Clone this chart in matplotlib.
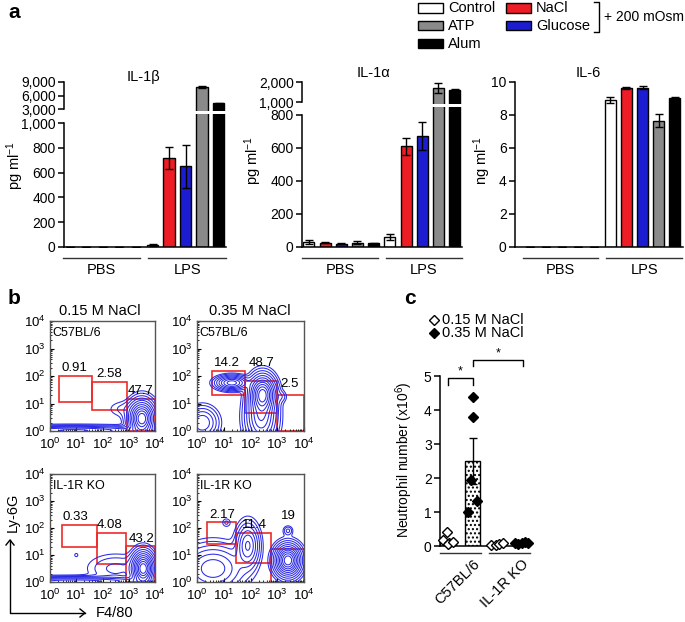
import numpy as np
import matplotlib.pyplot as plt
from matplotlib.patches import Rectangle
from matplotlib.lines import Line2D

plt.rcParams['font.family'] = ['Liberation Sans', 'DejaVu Sans']
plt.rcParams['mathtext.fontset'] = 'custom'
plt.rcParams['mathtext.rm'] = 'Liberation Sans'
plt.rcParams['mathtext.it'] = 'Liberation Sans:italic'
plt.rcParams['mathtext.bf'] = 'Liberation Sans:bold'

W, H = 685, 622

# ---------------- panel a data ----------------
treatments = ['Control', 'NaCl', 'Glucose', 'ATP', 'Alum']
bar_colors = ['white', '#ee1c24', '#1c1cd0', '#8a8a8a', 'black']
groups = ['PBS', 'LPS']

il1b_pbs = [3, 3, 1, 3, 3]
il1b_pbs_err = [1, 1, 0, 1, 1]
il1b_lps = [18, 720, 650, 7950, 4300]
il1b_lps_err = [9, 90, 170, 200, 120]

il1a_pbs = [28, 25, 20, 27, 22]
il1a_pbs_err = [12, 3, 2, 8, 3]
il1a_lps = [60, 610, 670, 1685, 1620]
il1a_lps_err = [20, 50, 85, 250, 50]

il6_pbs = [0.02, 0.02, 0.02, 0.02, 0.02]
il6_pbs_err = [0, 0, 0, 0, 0]
il6_lps = [8.9, 9.65, 9.65, 7.65, 9.02]
il6_lps_err = [0.2, 0.05, 0.08, 0.4, 0.05]

# ---------------- panel b data ----------------
# populations (log10 x centre, log10 y centre, sx, sy, weight)
flow_blobs = {
    'tl': [(3.5, 0.45, 0.26, 0.34, 1.0), (0.9, 0.02, 1.6, 0.09, 0.35),
           (2.8, 0.8, 0.35, 0.18, 0.03)],
    'tr': [(1.3, 1.75, 0.30, 0.13, 0.6), (2.45, 1.35, 0.25, 0.35, 1.0),
           (2.4, 0.5, 0.30, 0.50, 0.5), (0.2, 0.3, 0.30, 0.30, 0.25),
           (3.15, 1.25, 0.12, 0.12, 0.04)],
    'bl': [(3.55, 0.5, 0.22, 0.32, 1.0), (0.9, 0.02, 1.6, 0.09, 0.4),
           (1.0, 1.0, 0.08, 0.08, 0.015), (2.5, 0.5, 0.6, 0.30, 0.06)],
    'br': [(3.4, 0.8, 0.25, 0.30, 1.0), (3.4, 1.9, 0.10, 0.10, 0.06),
           (1.1, 2.2, 0.10, 0.10, 0.03), (1.9, 1.35, 0.22, 0.42, 0.35),
           (0.6, 0.5, 0.60, 0.45, 0.3)],
}
# gates: (x0, x1, y0, y1) in decades, label, label position
flow_gates = {
    'tl': [((0.35, 1.6, 1.06, 2.0), '0.91', (0.95, 2.28)),
           ((1.6, 2.95, 0.75, 1.78), '2.58', (2.27, 2.08)),
           ((2.95, 4.0, 0.0, 1.17), '47.7', (3.46, 1.45))],
    'tr': [((0.57, 1.79, 1.32, 2.18), '14.2', (1.1, 2.48)),
           ((1.79, 3.0, 0.66, 1.82), '48.7', (2.4, 2.48)),
           ((3.0, 4.0, 0.0, 1.31), '2.5', (3.45, 1.7))],
    'bl': [((0.47, 1.8, 1.28, 2.12), '0.33', (0.95, 2.41)),
           ((1.8, 2.9, 0.66, 1.81), '4.08', (2.27, 2.1)),
           ((2.9, 4.0, 0.0, 1.33), '43.2', (3.5, 1.6))],
    'br': [((0.38, 1.46, 1.41, 2.22), '2.17', (0.95, 2.5)),
           ((1.46, 2.76, 0.7, 1.82), '11.4', (2.15, 2.12)),
           ((2.78, 4.0, 0.0, 1.23), '19', (3.4, 2.43))],
}
flow_strain = {'tl': 'C57BL/6', 'tr': 'C57BL/6', 'bl': 'IL-1R KO', 'br': 'IL-1R KO'}
flow_cols = ['0.15 M NaCl', '0.35 M NaCl']

# ---------------- panel c data ----------------
c_strains = ['C57BL/6', 'IL-1R KO']
c_means = [0.17, 2.5, 0.05, 0.1]
c_err = [0.04, 0.67, 0.02, 0.02]
c57_015 = [0.42, 0.18, 0.10, 0.05, 0.12]
c57_035 = [4.38, 3.80, 1.95, 1.33, 1.00]
ko_015 = [0.04, 0.03, 0.06, 0.10]
ko_035 = [0.08, 0.05, 0.10, 0.12, 0.09]
c_points = [c57_015, c57_035, ko_015, ko_035]
c_jitter = [[-0.05, -0.2, 0.05, 0.0, 0.22], [0.0, 0.02, -0.05, 0.2, -0.18],
            [-0.25, -0.05, 0.08, 0.25], [-0.27, -0.14, 0.02, 0.14, 0.27]]


def rect(x0, y0, x1, y1):
    return [x0 / W, 1 - y1 / H, (x1 - x0) / W, (y1 - y0) / H]


def fx(x):
    return x / W


def fy(y):
    return 1 - y / H


fig = plt.figure(figsize=(W / 100, H / 100), dpi=100)

TICKFS = 10
positions = np.array([0, 1, 2, 3, 4, 5, 6, 7, 8, 9])


def style_axis(ax, bottom=True):
    for s in ['top', 'right']:
        ax.spines[s].set_visible(False)
    ax.spines['bottom'].set_visible(bottom)
    ax.spines['left'].set_linewidth(1.1)
    ax.spines['bottom'].set_linewidth(1.1)
    ax.tick_params(axis='y', direction='out', length=4, width=1.1, labelsize=TICKFS, pad=2)
    ax.tick_params(axis='x', length=0, labelbottom=False)


def draw_bars(ax, means, errs):
    ax.bar(positions, means, width=0.68, color=bar_colors * 2, edgecolor='black', linewidth=1)
    ax.errorbar(positions, means, yerr=errs, fmt='none', ecolor='black', elinewidth=1,
                capsize=2.8, capthick=1)


def group_lines(ax, height_px):
    tr = ax.get_xaxis_transform()
    for (a, b), lab in zip([(-0.4, 4.25), (4.75, 9.45)], groups):
        ax.plot([a, b], [-11 / height_px] * 2, transform=tr, clip_on=False, color='#333333', lw=1)
        ax.text((a + b) / 2, -23 / height_px, lab, transform=tr, ha='center', va='center', fontsize=10.5)


def fmt_thousands(vals):
    return ['{:,}'.format(v) for v in vals]


def broken_panel(x0, x1, low_top, low_lim, low_ticks, up_rect, up_lim, up_ticks, pbs, pbs_e, lps, lps_e, xlim):
    means = pbs + lps
    errs = pbs_e + lps_e
    axl = fig.add_axes(rect(x0, low_top, x1, 247))
    draw_bars(axl, means, errs)
    axl.set_xlim(*xlim)
    axl.set_ylim(*low_lim)
    axl.set_yticks(low_ticks)
    axl.set_yticklabels(fmt_thousands(low_ticks))
    axl.spines['left'].set_bounds(low_ticks[0], low_ticks[-1])
    style_axis(axl)
    group_lines(axl, 247 - low_top)
    axu = fig.add_axes(rect(x0, up_rect[0], x1, up_rect[1]))
    draw_bars(axu, means, errs)
    axu.set_xlim(*xlim)
    axu.set_ylim(*up_lim)
    axu.set_yticks(up_ticks)
    axu.set_yticklabels(fmt_thousands(up_ticks))
    axu.spines['left'].set_bounds(up_ticks[0], up_ticks[-1])
    style_axis(axu, bottom=False)
    axu.patch.set_alpha(0)
    return axl, axu


# IL-1beta
broken_panel(64, 226, 114, (0, 1073), [0, 200, 400, 600, 800, 1000],
             (80, 111), (2556, 9444), [3000, 6000, 9000],
             il1b_pbs, il1b_pbs_err, il1b_lps, il1b_lps_err, (-0.36, 9.45))
fig.text(fx(143), fy(77), 'IL-1β', ha='center', va='center', fontsize=10.5)
fig.text(fx(15), fy(165), 'pg ml$^{-1}$', ha='center', va='center', rotation=90, fontsize=10.5)

# IL-1alpha
broken_panel(302, 462, 107, (0, 848), [0, 200, 400, 600, 800],
             (80, 104), (900, 2100), [1000, 2000],
             il1a_pbs, il1a_pbs_err, il1a_lps, il1a_lps_err, (-0.42, 9.45))
fig.text(fx(373), fy(73), 'IL-1α', ha='center', va='center', fontsize=10.5)
fig.text(fx(253), fy(160), 'pg ml$^{-1}$', ha='center', va='center', rotation=90, fontsize=10.5)

# IL-6
ax6 = fig.add_axes(rect(515, 80, 683, 247))
draw_bars(ax6, il6_pbs + il6_lps, il6_pbs_err + il6_lps_err)
ax6.set_xlim(-0.9, 9.5)
ax6.set_ylim(0, 10.12)
ax6.set_yticks([0, 2, 4, 6, 8, 10])
ax6.spines['left'].set_bounds(0, 10)
style_axis(ax6)
group_lines(ax6, 167)
fig.text(fx(588), fy(73), 'IL-6', ha='center', va='center', fontsize=10.5)
fig.text(fx(482), fy(160), 'ng ml$^{-1}$', ha='center', va='center', rotation=90, fontsize=10.5)

# legend for a
leg_layout = {'Control': (418, 8), 'ATP': (418, 25.5), 'Alum': (418, 43.5),
              'NaCl': (506, 8), 'Glucose': (506, 25.5)}
for name, col in zip(treatments, bar_colors):
    lx, ly = leg_layout[name]
    fig.add_artist(Rectangle((fx(lx), fy(ly + 4.7)), 25 / W, 9.4 / H, facecolor=col,
                             edgecolor='black', linewidth=1, transform=fig.transFigure))
    fig.text(fx(lx + 30), fy(ly), name, ha='left', va='center', fontsize=10.5)
fig.add_artist(Line2D([fx(594), fx(598.5), fx(598.5), fx(594)], [fy(2), fy(2), fy(32), fy(32)],
                      color='black', lw=1, transform=fig.transFigure))
fig.text(fx(604), fy(17), '+ 200 mOsm', ha='left', va='center', fontsize=10)

fig.text(fx(8), fy(12), 'a', ha='left', va='center', fontsize=15, fontweight='bold')
fig.text(fx(8), fy(298), 'b', ha='left', va='center', fontsize=15, fontweight='bold')
fig.text(fx(404), fy(298), 'c', ha='left', va='center', fontsize=15, fontweight='bold')

# ---------------- panel b ----------------
gx = np.linspace(0, 4, 260)
GX, GY = np.meshgrid(gx, gx)
level_fracs = [0.012, 0.025, 0.05, 0.09, 0.15, 0.23, 0.33, 0.45, 0.58, 0.72, 0.86]
flow_rects = {'tl': (50, 321, 155, 431), 'tr': (197, 321, 304, 431),
              'bl': (50, 474, 155, 582), 'br': (197, 474, 304, 582)}
minor = [d + np.log10(m) for d in range(4) for m in range(2, 10)]
for key, r in flow_rects.items():
    ax = fig.add_axes(rect(*r))
    Z = np.zeros_like(GX)
    for cx, cy, sx, sy, w in flow_blobs[key]:
        Z += w * np.exp(-((GX - cx) ** 2 / (2 * sx ** 2) + (GY - cy) ** 2 / (2 * sy ** 2)))
    ax.contour(GX, GY, Z, levels=[f * Z.max() for f in level_fracs], colors='#2a2ae6',
               linewidths=0.75)
    for (a, b, c0, c1), lab, (tx, ty) in flow_gates[key]:
        ax.add_patch(Rectangle((a, c0), b - a, c1 - c0, fill=False, edgecolor='#ee2a2a', lw=1.2,
                               clip_on=False))
        ax.text(tx, ty, lab, ha='center', va='center', fontsize=9.5)
    ax.text(0.1, 3.55, flow_strain[key], ha='left', va='center', fontsize=9)
    ax.set_xlim(0, 4)
    ax.set_ylim(0, 4)
    ticks = [0, 1, 2, 3, 4]
    labels = ['10$^{%d}$' % t for t in ticks]
    ax.set_xticks(ticks)
    ax.set_xticklabels(labels)
    ax.set_yticks(ticks)
    ax.set_yticklabels(labels)
    ax.set_xticks(minor, minor=True)
    ax.set_yticks(minor, minor=True)
    ax.tick_params(which='major', direction='in', length=3, width=0.8, labelsize=9.5, pad=3)
    ax.tick_params(axis='x', which='major', pad=4)
    ax.tick_params(which='minor', direction='in', length=1.5, width=0.6)
    for s in ax.spines.values():
        s.set_color('#555555')
        s.set_linewidth(1)

fig.text(fx(100), fy(311), flow_cols[0], ha='center', va='center', fontsize=10.5)
fig.text(fx(250), fy(311), flow_cols[1], ha='center', va='center', fontsize=10.5)
fig.text(fx(13), fy(512), 'Ly-6G', ha='center', va='center', rotation=90, fontsize=10.5)
fig.add_artist(Line2D([fx(10), fx(10), fx(85)], [fy(540), fy(613), fy(613)], color='black', lw=1,
                      transform=fig.transFigure))
fig.add_artist(Line2D([fx(6), fx(10), fx(14)], [fy(545), fy(540), fy(545)], color='black', lw=1,
                      transform=fig.transFigure))
fig.add_artist(Line2D([fx(80), fx(85), fx(80)], [fy(609), fy(613), fy(617)], color='black', lw=1,
                      transform=fig.transFigure))
fig.text(fx(96), fy(613), 'F4/80', ha='left', va='center', fontsize=10.5)

# ---------------- panel c ----------------
axc = fig.add_axes(rect(440, 376, 530, 546))
cpos = [0, 1, 2, 3]
axc.bar(cpos, c_means, width=0.65, color='white', edgecolor='black', linewidth=1,
        hatch=['', '....', '', '....'])
axc.errorbar(cpos, c_means, yerr=c_err, fmt='none', ecolor='black', elinewidth=1, capsize=3, capthick=1)
for i, (pts, jit) in enumerate(zip(c_points, c_jitter)):
    filled = i % 2 == 1
    axc.plot([cpos[i] + j for j in jit], pts, 'D', ms=5, mec='black', mew=1,
             mfc='black' if filled else 'white', clip_on=False, zorder=5)
axc.set_xlim(-0.33, 3.35)
axc.set_ylim(0, 5)
axc.set_yticks([0, 1, 2, 3, 4, 5])
for s in ['top', 'right']:
    axc.spines[s].set_visible(False)
axc.spines['left'].set_linewidth(1.1)
axc.spines['bottom'].set_linewidth(1.1)
axc.tick_params(axis='y', direction='out', length=4, width=1.1, labelsize=TICKFS, pad=2)
axc.tick_params(axis='x', length=0, labelbottom=False)
tr = axc.get_xaxis_transform()
for (a, b), lab in zip([(-0.33, 1.35), (1.68, 3.33)], c_strains):
    axc.plot([a, b], [-7 / 170] * 2, transform=tr, clip_on=False, color='#333333', lw=1)
axc.text(1.0, -11 / 170, c_strains[0], transform=tr, ha='right', va='top', rotation=45,
         rotation_mode='anchor', fontsize=10.5)
axc.text(3.0, -11 / 170, c_strains[1], transform=tr, ha='right', va='top', rotation=45,
         rotation_mode='anchor', fontsize=10.5)
# significance brackets
for (a, b, yb, yd) in [(0.0, 1.0, 4.94, 4.75), (1.02, 3.05, 5.47, 5.3)]:
    axc.plot([a, a, b, b], [yd, yb, yb, yd], color='black', lw=1, clip_on=False)
    axc.text((a + b) / 2, yb + 0.02, '*', ha='center', va='bottom', fontsize=9)
fig.text(fx(404), fy(460), 'Neutrophil number (x10$^{6}$)', ha='center', va='center',
         rotation=90, fontsize=10)
fig.add_artist(Line2D([fx(434)], [fy(320)], marker='D', ms=5, mfc='white', mec='black', mew=1,
                      transform=fig.transFigure))
fig.add_artist(Line2D([fx(434)], [fy(333)], marker='D', ms=5, mfc='black', mec='black', mew=1,
                      transform=fig.transFigure))
fig.text(fx(442), fy(320), flow_cols[0], ha='left', va='center', fontsize=10.5)
fig.text(fx(442), fy(333), flow_cols[1], ha='left', va='center', fontsize=10.5)

fig.savefig('out.png', dpi=100)
